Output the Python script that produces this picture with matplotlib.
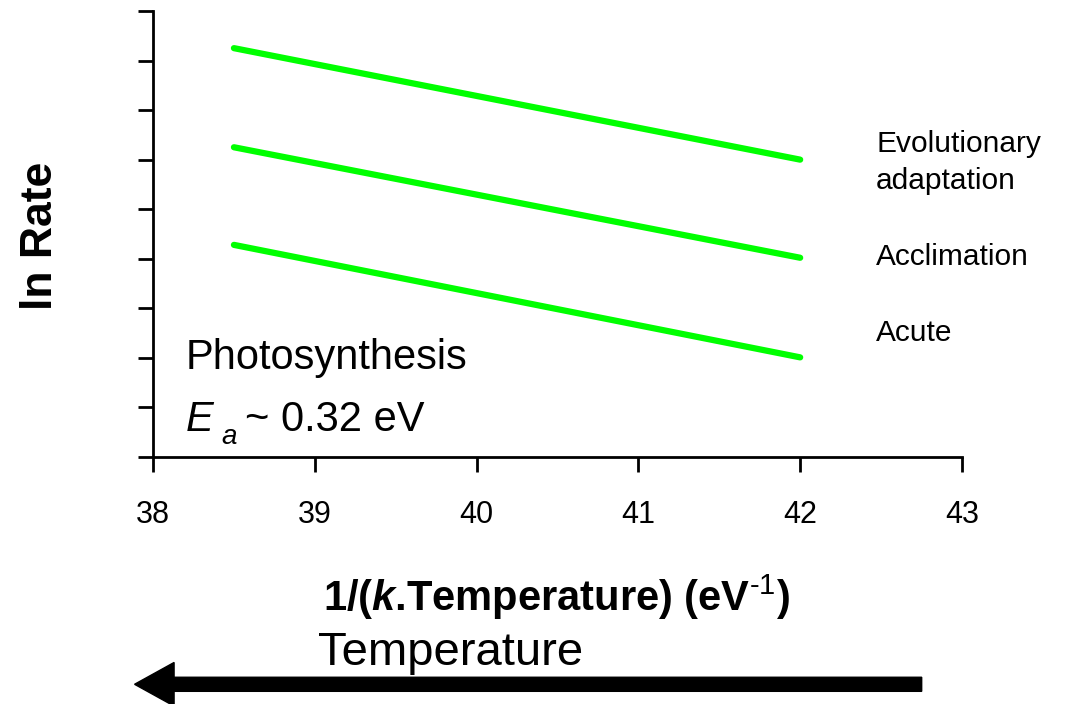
import numpy as np
import matplotlib.pyplot as plt
from matplotlib.patches import FancyArrow

plt.rcParams['font.family'] = ['Liberation Sans', 'DejaVu Sans']
plt.rcParams['mathtext.fontset'] = 'custom'
plt.rcParams['mathtext.rm'] = 'Liberation Sans'
plt.rcParams['mathtext.it'] = 'Liberation Sans:italic'
plt.rcParams['mathtext.bf'] = 'Liberation Sans:bold'
plt.rcParams['mathtext.bfit'] = 'Liberation Sans:bold:italic'

# data
x_start, x_end = 38.5, 42.0
labels = ['Evolutionary\nadaptation', 'Acclimation', 'Acute']
y_start = [8.25, 6.25, 4.28]
y_end = [6.0, 4.02, 2.01]
label_y = [5.95, 4.04, 2.5]
xticks = [38, 39, 40, 41, 42, 43]

fig = plt.figure(figsize=(10.68, 7.04), dpi=100)
ax = fig.add_axes([0.1433, 0.3509, 0.7574, 0.6335])

for y0, y1 in zip(y_start, y_end):
    ax.plot([x_start, x_end], [y0, y1], color='#00ff00', lw=4.5,
            solid_capstyle='round')

for lab, ly in zip(labels, label_y):
    ax.text(42.47, ly, lab, fontsize=21.5, va='center', ha='left',
            linespacing=1.42, clip_on=False)

ax.text(38.2, 2.0, 'Photosynthesis', fontsize=30, va='center')
ax.text(38.2, 0.75, 'E', fontsize=30, va='center', style='italic')
ax.text(38.42, 0.40, 'a', fontsize=20, va='center', style='italic')
ax.text(38.57, 0.75, '~ 0.32 eV', fontsize=30, va='center')

ax.set_xlim(38, 43)
ax.set_ylim(0, 9)
ax.set_xticks(xticks)
ax.set_xticklabels([str(t) for t in xticks], fontsize=22)
ax.set_yticks(np.arange(0, 10))
ax.set_yticklabels([])
ax.tick_params(axis='x', direction='out', length=11, width=2, pad=20)
ax.tick_params(axis='y', direction='out', length=11, width=2)
for s in ['top', 'right']:
    ax.spines[s].set_visible(False)
for s in ['left', 'bottom']:
    ax.spines[s].set_linewidth(2)

fig.text(0.038, 0.665, 'ln Rate', rotation=90, fontsize=32,
         fontweight='bold', va='center', ha='center')
xl = fig.text(0.521, 0.152,
              r'1/($\mathbfit{k}$.Temperature) (eV$^{\mathbf{\text{-1}}}$)',
              fontsize=30, fontweight='bold', va='center', ha='center')
try:
    fig.canvas.draw()
except Exception:
    xl.set_text(r'1/($\mathbfit{k}$.Temperature) (eV$^{\mathbf{-1}}$)')
fig.text(0.298, 0.072, 'Temperature', fontsize=34, va='center', ha='left')
fig.patches.append(FancyArrow(
    0.863, 0.028, -0.7, 0, width=0.02, head_width=0.062, head_length=0.037,
    length_includes_head=False, color='black', transform=fig.transFigure))

fig.savefig('out.png', dpi=100)
